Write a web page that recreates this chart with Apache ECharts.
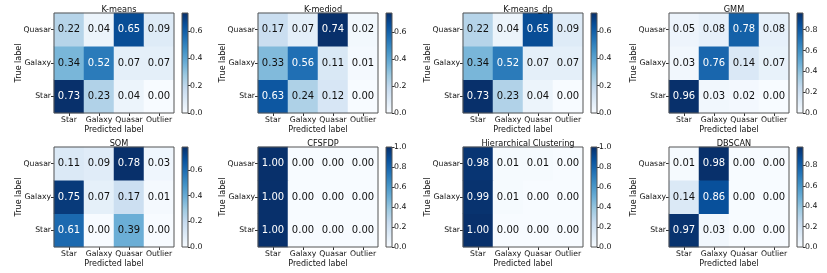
<!DOCTYPE html>
<html><head><meta charset="utf-8">
<script src="https://cdn.jsdelivr.net/npm/echarts@6/dist/echarts.min.js"></script>
<style>html,body{margin:0;padding:0;background:#fff}#c{width:827px;height:273px}</style>
</head><body><div id="c"></div>
<script>
// ---- data ----
const predictedLabels = ['Star', 'Galaxy', 'Quasar', 'Outlier'];
const trueLabels = ['Star', 'Galaxy', 'Quasar']; // bottom to top
const titles = ['K-means', 'K-mediod', 'K-means_dp', 'GMM', 'SOM', 'CFSFDP', 'Hierarchical Clustering', 'DBSCAN'];
// rows in order: true Star, true Galaxy, true Quasar; columns: predicted Star, Galaxy, Quasar, Outlier
const kmeans = [[0.73, 0.23, 0.04, 0.00], [0.34, 0.52, 0.07, 0.07], [0.22, 0.04, 0.65, 0.09]];
const kmediod = [[0.63, 0.24, 0.12, 0.00], [0.33, 0.56, 0.11, 0.01], [0.17, 0.07, 0.74, 0.02]];
const kmeansDp = [[0.73, 0.23, 0.04, 0.00], [0.34, 0.52, 0.07, 0.07], [0.22, 0.04, 0.65, 0.09]];
const gmm = [[0.96, 0.03, 0.02, 0.00], [0.03, 0.76, 0.14, 0.07], [0.05, 0.08, 0.78, 0.08]];
const som = [[0.61, 0.00, 0.39, 0.00], [0.75, 0.07, 0.17, 0.01], [0.11, 0.09, 0.78, 0.03]];
const cfsfdp = [[1.00, 0.00, 0.00, 0.00], [1.00, 0.00, 0.00, 0.00], [1.00, 0.00, 0.00, 0.00]];
const hierarchical = [[1.00, 0.00, 0.00, 0.00], [0.99, 0.01, 0.00, 0.00], [0.98, 0.01, 0.01, 0.00]];
const dbscan = [[0.97, 0.03, 0.00, 0.00], [0.14, 0.86, 0.00, 0.00], [0.01, 0.98, 0.00, 0.00]];
const colorbarTicks = [0.0, 0.2, 0.4, 0.6, 0.8, 1.0];

const matrices = [kmeans, kmediod, kmeansDp, gmm, som, cfsfdp, hierarchical, dbscan];

// ---- layout / style ----
const blues = ['#f7fbff', '#deebf7', '#c6dbef', '#9ecae1', '#6baed6', '#4292c6', '#2171b5', '#08519c', '#08306b'];
const colLeft = [54, 258, 463, 669];
const rowTop = [13, 147];
const W = 120, H = 100, cbOff = 128, cbW = 6;
const FONT = 'DejaVu Sans';
const frame = '#555';
const TICK_FS = 7.7;

const chart = echarts.init(document.getElementById('c'), null, { renderer: 'canvas' });

const grid = [], xAxis = [], yAxis = [], series = [], visualMap = [], title = [];

matrices.forEach((m, i) => {
  const r = Math.floor(i / 4), c = i % 4;
  const left = colLeft[c], top = rowTop[r];
  let vmax = 0;
  m.forEach(row => row.forEach(v => { if (v > vmax) vmax = v; }));

  title.push({
    text: titles[i], left: left + W / 2, top: top - 12, textAlign: 'center',
    textStyle: { fontFamily: FONT, fontSize: 8.2, fontWeight: 'normal', color: '#111' }
  });

  // heatmap grid
  grid.push({ left: left, top: top, width: W, height: H, show: true, borderColor: frame, borderWidth: 1, backgroundColor: 'transparent', z: 5 });
  xAxis.push({
    type: 'category', gridIndex: 2 * i, data: predictedLabels, position: 'bottom',
    name: 'Predicted label', nameLocation: 'middle', nameGap: 12.5, nameMoveOverlap: false,
    nameTextStyle: { fontFamily: FONT, fontSize: TICK_FS + 0.3, color: '#111' },
    axisLine: { show: false }, splitLine: { show: false },
    axisTick: { show: true, alignWithLabel: true, length: 3, lineStyle: { color: '#333' } },
    axisLabel: { fontFamily: FONT, fontSize: TICK_FS, color: '#111', margin: 3, interval: 0 }
  });
  yAxis.push({
    type: 'category', gridIndex: 2 * i, data: trueLabels,
    name: 'True label', nameLocation: 'middle', nameGap: 31.5, nameRotate: 90, nameMoveOverlap: false,
    nameTextStyle: { fontFamily: FONT, fontSize: TICK_FS + 0.3, color: '#111' },
    axisLine: { show: false }, splitLine: { show: false },
    axisTick: { show: true, alignWithLabel: true, length: 3, lineStyle: { color: '#333' } },
    axisLabel: { fontFamily: FONT, fontSize: TICK_FS, color: '#111', margin: 3 }
  });
  const data = [];
  m.forEach((row, yi) => row.forEach((v, xi) => {
    data.push({ value: [xi, yi, v], label: { color: v > vmax / 2 ? '#fff' : '#111' } });
  }));
  visualMap.push({
    type: 'continuous', show: false, min: 0, max: vmax, seriesIndex: series.length,
    inRange: { color: blues }
  });
  series.push({
    type: 'heatmap', xAxisIndex: 2 * i, yAxisIndex: 2 * i, data: data,
    label: { show: true, fontFamily: FONT, fontSize: 10, formatter: p => p.value[2].toFixed(2) },
    emphasis: { disabled: true }, itemStyle: { borderWidth: 0 }
  });

  // colorbar grid
  grid.push({ left: left + cbOff, top: top, width: cbW, height: H, show: true, borderColor: frame, borderWidth: 1, backgroundColor: 'transparent', z: 5 });
  xAxis.push({
    type: 'category', gridIndex: 2 * i + 1, data: ['cb'], show: false, boundaryGap: true
  });
  const ticks = colorbarTicks.filter(t => t <= vmax + 1e-9);
  yAxis.push({
    type: 'value', gridIndex: 2 * i + 1, min: 0, max: vmax, position: 'right',
    axisLine: { show: false }, splitLine: { show: false },
    axisTick: { show: true, length: 2.5, customValues: ticks, lineStyle: { color: '#333' } },
    axisLabel: { fontFamily: FONT, fontSize: 7.8, color: '#111', margin: 2, customValues: ticks, formatter: v => v.toFixed(1) }
  });
  series.push({
    type: 'bar', xAxisIndex: 2 * i + 1, yAxisIndex: 2 * i + 1, data: [vmax],
    barWidth: '100%', silent: true,
    itemStyle: {
      color: new echarts.graphic.LinearGradient(0, 0, 0, 1,
        blues.slice().reverse().map((col, k, arr) => ({ offset: k / (arr.length - 1), color: col })))
    }
  });
});

chart.setOption({
  animation: false,
  backgroundColor: '#fff',
  title, grid, xAxis, yAxis, series, visualMap
});
</script></body></html>
